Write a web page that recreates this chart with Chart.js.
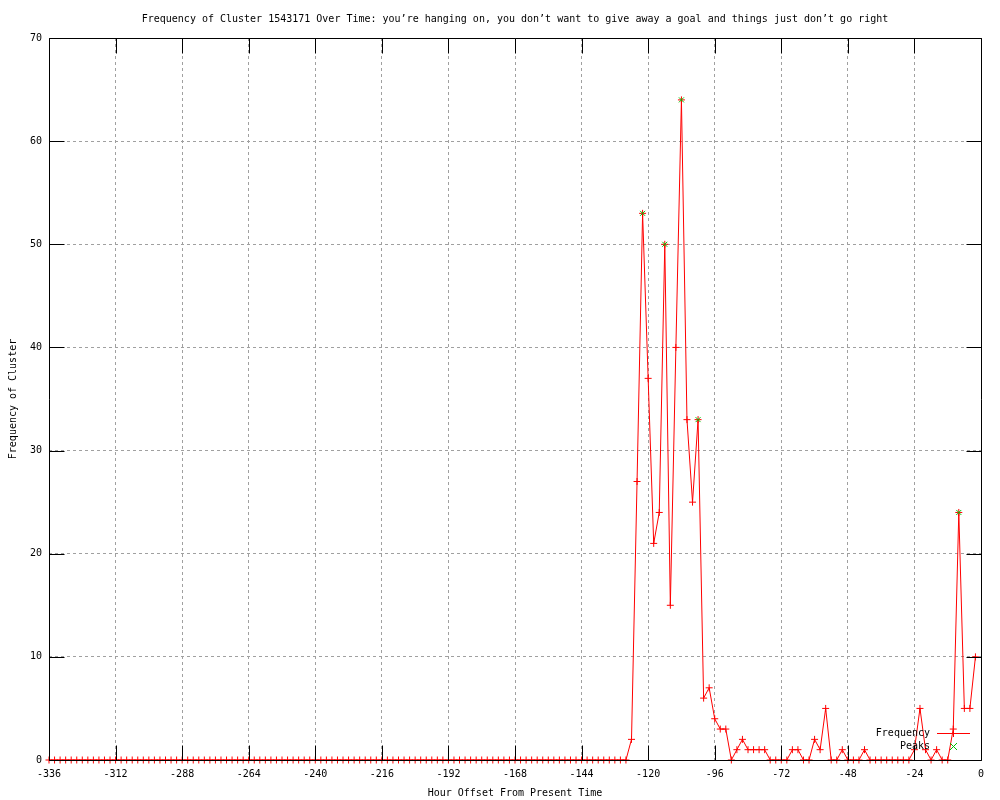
<!DOCTYPE html>
<html>
<head>
<meta charset="utf-8">
<script src="https://cdn.jsdelivr.net/npm/chart.js@4.4.1/dist/chart.umd.min.js"></script>
<style>
html,body{margin:0;padding:0;background:#ffffff;}
#wrap{width:1000px;height:800px;}
</style>
</head>
<body>
<div id="wrap"><canvas id="c" width="1000" height="800"></canvas></div>
<script>
const TITLE = "Frequency of Cluster 1543171 Over Time: you\u2019re hanging on, you don\u2019t want to give away a goal and things just don\u2019t go right";
const X_LABEL = "Hour Offset From Present Time";
const Y_LABEL = "Frequency of Cluster";
const SERIES_LABELS = ["Frequency", "Peaks"];

const hours = [
  -336,-334,-332,-330,-328,-326,-324,-322,-320,-318,-316,-314,-312,-310,-308,-306,-304,-302,-300,-298,
  -296,-294,-292,-290,-288,-286,-284,-282,-280,-278,-276,-274,-272,-270,-268,-266,-264,-262,-260,-258,
  -256,-254,-252,-250,-248,-246,-244,-242,-240,-238,-236,-234,-232,-230,-228,-226,-224,-222,-220,-218,
  -216,-214,-212,-210,-208,-206,-204,-202,-200,-198,-196,-194,-192,-190,-188,-186,-184,-182,-180,-178,
  -176,-174,-172,-170,-168,-166,-164,-162,-160,-158,-156,-154,-152,-150,-148,-146,-144,-142,-140,-138,
  -136,-134,-132,-130,-128,-126,-124,-122,-120,-118,-116,-114,-112,-110,-108,-106,-104,-102,-100,-98,
  -96,-94,-92,-90,-88,-86,-84,-82,-80,-78,-76,-74,-72,-70,-68,-66,-64,-62,-60,-58,
  -56,-54,-52,-50,-48,-46,-44,-42,-40,-38,-36,-34,-32,-30,-28,-26,-24,-22,-20,-18,
  -16,-14,-12,-10,-8,-6,-4,-2
];

const frequency = [
  0,0,0,0,0,0,0,0,0,0,0,0,0,0,0,0,0,0,0,0,
  0,0,0,0,0,0,0,0,0,0,0,0,0,0,0,0,0,0,0,0,
  0,0,0,0,0,0,0,0,0,0,0,0,0,0,0,0,0,0,0,0,
  0,0,0,0,0,0,0,0,0,0,0,0,0,0,0,0,0,0,0,0,
  0,0,0,0,0,0,0,0,0,0,0,0,0,0,0,0,0,0,0,0,
  0,0,0,0,0,2,27,53,37,21,24,50,15,40,64,33,25,33,6,7,
  4,3,3,0,1,2,1,1,1,1,0,0,0,0,1,1,0,0,2,1,
  5,0,0,1,0,0,0,1,0,0,0,0,0,0,0,0,1,5,1,0,
  1,0,0,3,24,5,5,10
];

const peakHours = [-122, -114, -108, -102, -8];
const peakValues = [53, 50, 64, 33, 24];

const xTicks = [-336,-312,-288,-264,-240,-216,-192,-168,-144,-120,-96,-72,-48,-24,0];
const yTicks = [0,10,20,30,40,50,60,70];

const FONT = '"DejaVu Sans Mono", "Liberation Mono", monospace';
const RED = '#ff0000';
const GREEN = '#00c000';
const GRID = '#a0a0a0';
const SERIES_COLORS = [RED, GREEN];
const SERIES_MARKS = ['cross', 'crossRot'];

function drawMark(ctx, style, x, y, r, color) {
  ctx.save();
  ctx.strokeStyle = color;
  ctx.lineWidth = 1;
  ctx.setLineDash([]);
  ctx.beginPath();
  if (style === 'cross') {
    ctx.moveTo(x - r, y); ctx.lineTo(x + r, y);
    ctx.moveTo(x, y - r); ctx.lineTo(x, y + r);
  } else {
    ctx.moveTo(x - r, y - r); ctx.lineTo(x + r, y + r);
    ctx.moveTo(x - r, y + r); ctx.lineTo(x + r, y - r);
  }
  ctx.stroke();
  ctx.restore();
}

const framePlugin = {
  id: 'frame',
  afterDatasetsDraw(chart) {
    const ctx = chart.ctx;
    const ca = chart.chartArea;
    const xs = chart.scales.x, ys = chart.scales.y;
    const L = Math.round(ca.left) + 0.5, R = Math.round(ca.right) + 0.5;
    const T = Math.round(ca.top) + 0.5, B = Math.round(ca.bottom) + 0.5;
    const tl = 15;
    ctx.save();
    ctx.setLineDash([]);
    ctx.strokeStyle = '#000000';
    ctx.lineWidth = 1;
    ctx.beginPath();
    ctx.rect(L, T, R - L, B - T);
    ctx.stroke();
    ctx.beginPath();
    xTicks.forEach(v => {
      const px = Math.round(xs.getPixelForValue(v)) + 0.5;
      ctx.moveTo(px, B); ctx.lineTo(px, B - tl);
      ctx.moveTo(px, T); ctx.lineTo(px, T + tl);
    });
    yTicks.forEach(v => {
      const py = Math.round(ys.getPixelForValue(v)) + 0.5;
      ctx.moveTo(L, py); ctx.lineTo(L + tl, py);
      ctx.moveTo(R, py); ctx.lineTo(R - tl, py);
    });
    ctx.stroke();

    // key (gnuplot style, bottom right inside plot)
    ctx.font = '10px ' + FONT;
    ctx.textAlign = 'right';
    ctx.textBaseline = 'middle';
    const rows = [ca.bottom - 27.5, ca.bottom - 14];
    SERIES_LABELS.forEach((label, i) => {
      const y = Math.round(rows[i]) + 0.5;
      ctx.fillStyle = '#000000';
      ctx.fillText(label, ca.right - 51, y);
      if (i === 0) {
        ctx.strokeStyle = SERIES_COLORS[i];
        ctx.lineWidth = 1;
        ctx.beginPath();
        ctx.moveTo(ca.right - 44, y);
        ctx.lineTo(ca.right - 11, y);
        ctx.stroke();
      }
      drawMark(ctx, SERIES_MARKS[i], Math.round(ca.right - 28) + 0.5, y, 3.5, SERIES_COLORS[i]);
    });
    ctx.restore();
  }
};

const freqData = hours.map((h, i) => ({ x: h, y: frequency[i] }));
const peakData = peakHours.map((h, i) => ({ x: h, y: peakValues[i] }));

new Chart(document.getElementById('c'), {
  type: 'line',
  data: {
    datasets: [
      {
        label: SERIES_LABELS[0],
        data: freqData,
        order: 1,
        borderColor: RED,
        backgroundColor: RED,
        borderWidth: 1,
        pointStyle: 'cross',
        pointRadius: 3.5,
        pointBorderColor: RED,
        pointBorderWidth: 1,
        pointHoverRadius: 3.5,
        tension: 0,
        fill: false,
        clip: false
      },
      {
        label: SERIES_LABELS[1],
        data: peakData,
        order: 0,
        showLine: false,
        borderColor: GREEN,
        backgroundColor: GREEN,
        pointStyle: 'crossRot',
        pointRadius: 3.5,
        pointBorderColor: GREEN,
        pointBorderWidth: 1,
        pointHoverRadius: 3.5,
        clip: false
      }
    ]
  },
  options: {
    responsive: false,
    animation: false,
    devicePixelRatio: 1,
    layout: { padding: { left: 0, right: 19, top: 0, bottom: 0 } },
    events: [],
    plugins: {
      legend: { display: false },
      tooltip: { enabled: false },
      title: {
        display: true,
        text: TITLE,
        fullSize: false,
        color: '#000000',
        font: { family: FONT, size: 10, weight: 'normal', lineHeight: 1.2 },
        padding: { top: 13, bottom: 13 }
      }
    },
    scales: {
      x: {
        type: 'linear',
        min: -336,
        max: 0,
        afterBuildTicks: s => { s.ticks = xTicks.map(v => ({ value: v })); },
        afterFit: s => { s.height = 40; },
        ticks: {
          autoSkip: false,
          maxRotation: 0,
          minRotation: 0,
          padding: 8,
          color: '#000000',
          font: { family: FONT, size: 10, lineHeight: 1.2 },
          callback: v => String(v)
        },
        grid: { color: GRID, lineWidth: 1, drawTicks: false },
        border: { display: false, dash: [3, 3] },
        title: {
          display: true,
          text: X_LABEL,
          color: '#000000',
          font: { family: FONT, size: 10, lineHeight: 1.2 },
          padding: { top: 0, bottom: 1 }
        }
      },
      y: {
        type: 'linear',
        min: 0,
        max: 70,
        afterBuildTicks: s => { s.ticks = yTicks.map(v => ({ value: v })); },
        afterFit: s => { s.width = 49; },
        ticks: {
          padding: 7,
          color: '#000000',
          font: { family: FONT, size: 10, lineHeight: 1.2 },
          callback: v => String(v)
        },
        grid: { color: GRID, lineWidth: 1, drawTicks: false },
        border: { display: false, dash: [3, 3] },
        title: {
          display: true,
          text: Y_LABEL,
          color: '#000000',
          font: { family: FONT, size: 10, lineHeight: 1.2 },
          padding: { top: 7, bottom: 0 }
        }
      }
    }
  },
  plugins: [framePlugin]
});
</script>
</body>
</html>
